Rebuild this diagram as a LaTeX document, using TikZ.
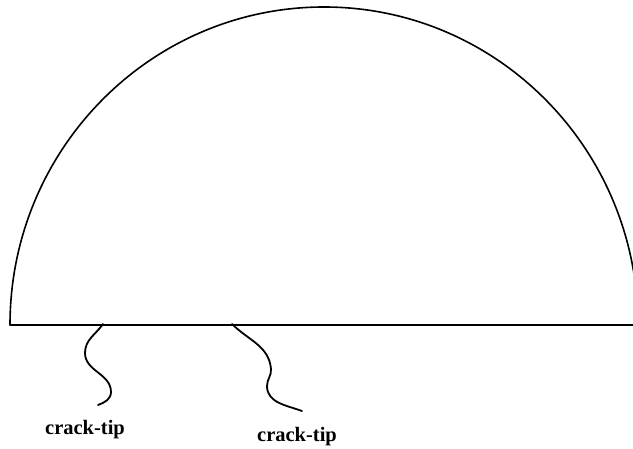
\documentclass[tikz,border=0pt]{standalone}
\usepackage{fontspec}
\setmainfont{Liberation Serif}
\begin{document}
\begin{tikzpicture}[x=1pt,y=1pt,
  outline/.style={line width=1.6pt, line join=round, line cap=round},
  squiggle/.style={line width=1.8pt, line cap=round},
  lbl/.style={font=\fontsize{20.5}{23}\selectfont\bfseries, inner sep=0pt}]
\useasboundingbox (0,0) rectangle (633,449);
\clip (0,0) rectangle (633,449);
% base line and half-disc
\coordinate (bl) at (10,124);
\coordinate (br) at (640,124);
\draw[outline] (br) -- (bl) arc[start angle=180, end angle=0, x radius=314, y radius=318];
% crack tip leaders
\coordinate (s1) at (103,125);
\coordinate (m1) at (85,96);
\coordinate (n1) at (111,57);
\coordinate (e1) at (98,44);
\draw[squiggle] (s1) to[out=235,in=90] (m1) to[out=-90,in=90] (n1) to[out=-90,in=20] (e1);
\coordinate (s2) at (232,125);
\coordinate (m2) at (271,80);
\coordinate (n2) at (267,63);
\coordinate (e2) at (302,38);
\draw[squiggle] (s2) to[out=-45,in=95] (m2) to[out=-85,in=90] (n2) to[out=-90,in=160] (e2);
% labels
\node[lbl] (l1) at (85,19) {crack-tip};
\node[lbl] (l2) at (297,12) {crack-tip};
\end{tikzpicture}
\end{document}
